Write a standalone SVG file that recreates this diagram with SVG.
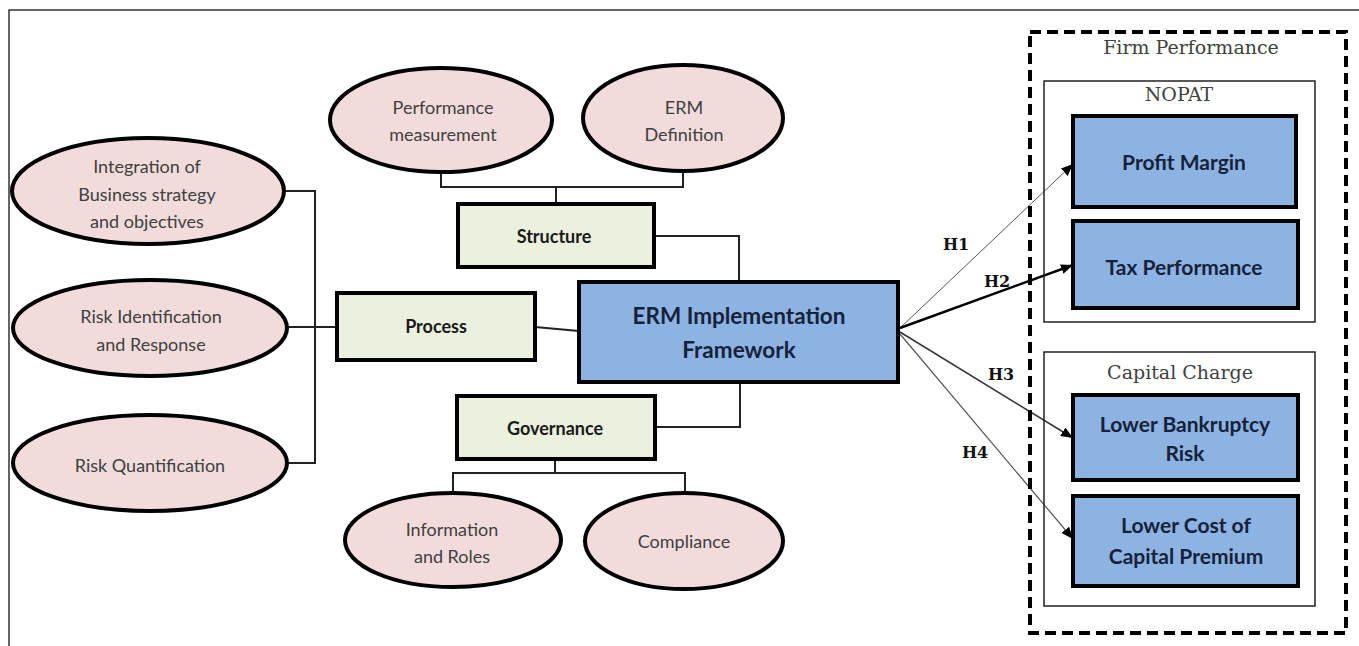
<svg xmlns="http://www.w3.org/2000/svg" width="1359" height="646" viewBox="0 0 1359 646">
<style>
.ell{fill:#f2dcdb;stroke:#000;stroke-width:4}
.grn{fill:#ebf1de;stroke:#000;stroke-width:4}
.blu{fill:#8db3e2;stroke:#000;stroke-width:4}
.grp{fill:none;stroke:#222;stroke-width:1.5}
.et{font-family:Lato,"Open Sans",sans-serif;font-size:18px;fill:#404040;text-anchor:middle}
.gt{font-family:Lato,"Open Sans",sans-serif;font-size:18px;font-weight:bold;fill:#1a1a1a;text-anchor:middle}
.bt{font-family:Lato,"Open Sans",sans-serif;font-size:21px;font-weight:bold;fill:#16223a;text-anchor:middle}
.st{font-family:"DejaVu Serif",serif;font-size:19px;fill:#404040;text-anchor:middle}
.ht{font-family:"DejaVu Serif",serif;font-size:16px;font-weight:bold;fill:#111;text-anchor:middle}
.ln{fill:none;stroke:#222;stroke-width:2}
</style>
<defs>
<marker id="ah" viewBox="0 0 12 10" refX="12" refY="5" markerWidth="12" markerHeight="10" markerUnits="userSpaceOnUse" orient="auto">
<path d="M0,0 L12,5 L0,10 Z" fill="#000"/>
</marker>
</defs>
<rect x="0" y="0" width="1359" height="646" fill="#fff"/>
<path d="M9,646 V10 H1359" fill="none" stroke="#333" stroke-width="1.5"/>

<g id="connectors">
<path class="ln" d="M285,191 H315 V463 H288 M287,327 H337"/>
<path class="ln" d="M441,172 V187 H683 V172 M556,187 V204"/>
<path class="ln" d="M654,236 H739 V282"/>
<path class="ln" d="M535,327 L579,331"/>
<path class="ln" d="M740,382 V427 H655"/>
<path class="ln" d="M555,459 V473 M453,492 V473 H685 V492"/>
<line x1="900" y1="328" x2="1073" y2="164" stroke="#555" stroke-width="1" marker-end="url(#ah)"/>
<line x1="900" y1="328" x2="1073" y2="265" stroke="#000" stroke-width="2.5" marker-end="url(#ah)"/>
<line x1="900" y1="332" x2="1073" y2="438" stroke="#333" stroke-width="1.5" marker-end="url(#ah)"/>
<line x1="900" y1="334" x2="1073" y2="539" stroke="#555" stroke-width="1.2" marker-end="url(#ah)"/>
<text class="ht" x="956" y="250">H1</text>
<text class="ht" x="997" y="287">H2</text>
<text class="ht" x="1001" y="380">H3</text>
<text class="ht" x="975" y="458">H4</text>
</g>

<g id="firm-performance">
<rect x="1030" y="32" width="316" height="601" fill="none" stroke="#000" stroke-width="4" stroke-dasharray="11,6"/>
<text class="st" x="1191" y="54">Firm Performance</text>
</g>
<g id="nopat">
<rect class="grp" x="1044" y="81" width="271" height="241"/>
<text class="st" x="1179" y="101">NOPAT</text>
</g>
<g id="capital-charge">
<rect class="grp" x="1044" y="352" width="271" height="254"/>
<text class="st" x="1180" y="379">Capital Charge</text>
</g>

<g id="profit-margin">
<rect class="blu" x="1073" y="116" width="223" height="91"/>
<text class="bt" x="1184" y="170">Profit Margin</text>
</g>
<g id="tax-performance">
<rect class="blu" x="1073" y="221" width="225" height="87"/>
<text class="bt" x="1184" y="275">Tax Performance</text>
</g>
<g id="lower-bankruptcy-risk">
<rect class="blu" x="1073" y="395" width="225" height="85"/>
<text class="bt" x="1185" y="432">Lower Bankruptcy</text>
<text class="bt" x="1185" y="461">Risk</text>
</g>
<g id="lower-cost-capital">
<rect class="blu" x="1073" y="496" width="225" height="90"/>
<text class="bt" x="1186" y="533">Lower Cost of</text>
<text class="bt" x="1186" y="564">Capital Premium</text>
</g>

<g id="erm-framework">
<rect class="blu" x="579" y="282" width="319" height="100"/>
<text class="bt" x="739" y="324" style="font-size:22.5px">ERM Implementation</text>
<text class="bt" x="739" y="358" style="font-size:22.5px">Framework</text>
</g>

<g id="structure">
<rect class="grn" x="458" y="204" width="196" height="63"/>
<text class="gt" x="554" y="243">Structure</text>
</g>
<g id="process">
<rect class="grn" x="337" y="293" width="198" height="67"/>
<text class="gt" x="436" y="333">Process</text>
</g>
<g id="governance">
<rect class="grn" x="457" y="396" width="198" height="63"/>
<text class="gt" x="555" y="435">Governance</text>
</g>

<g id="performance-measurement">
<ellipse class="ell" cx="441" cy="120" rx="111" ry="52"/>
<text class="et" x="443" y="114">Performance</text>
<text class="et" x="443" y="141">measurement</text>
</g>
<g id="erm-definition">
<ellipse class="ell" cx="683" cy="118" rx="100" ry="53"/>
<text class="et" x="684" y="114">ERM</text>
<text class="et" x="684" y="141">Definition</text>
</g>
<g id="integration">
<ellipse class="ell" cx="148" cy="191" rx="136" ry="53"/>
<text class="et" x="147" y="173">Integration of</text>
<text class="et" x="147" y="201">Business strategy</text>
<text class="et" x="147" y="228">and objectives</text>
</g>
<g id="risk-identification">
<ellipse class="ell" cx="150" cy="328" rx="137" ry="48"/>
<text class="et" x="151" y="323">Risk Identification</text>
<text class="et" x="151" y="351">and Response</text>
</g>
<g id="risk-quantification">
<ellipse class="ell" cx="150" cy="463" rx="137" ry="48"/>
<text class="et" x="150" y="472">Risk Quantification</text>
</g>
<g id="information-roles">
<ellipse class="ell" cx="453" cy="540" rx="108" ry="47"/>
<text class="et" x="452" y="536">Information</text>
<text class="et" x="452" y="563">and Roles</text>
</g>
<g id="compliance">
<ellipse class="ell" cx="684" cy="541" rx="99" ry="48"/>
<text class="et" x="684" y="548">Compliance</text>
</g>
</svg>
